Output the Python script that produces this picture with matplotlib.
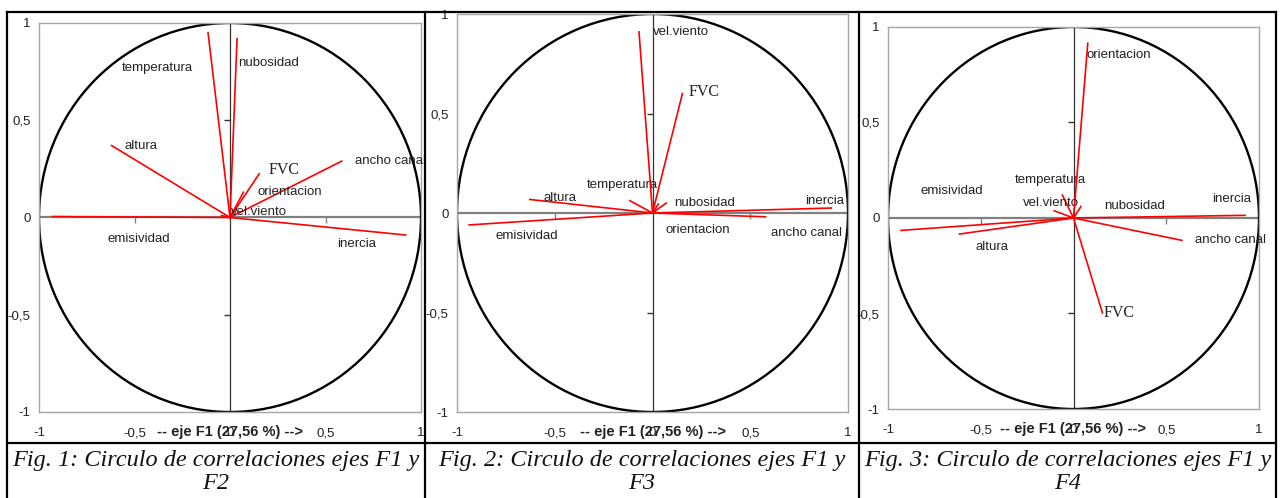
import matplotlib
matplotlib.use("Agg")
import matplotlib.pyplot as plt
from matplotlib.lines import Line2D
from matplotlib.patches import Ellipse

# variables (same order in each panel)
variables = ["temperatura", "nubosidad", "altura", "ancho canal", "FVC",
             "orientacion", "vel.viento", "emisividad", "inercia"]

# correlations with F1 (x) and with F2 / F3 / F4 (y)
f1_f2_x = [-0.115, 0.037, -0.62, 0.585, 0.153, 0.07, -0.045, -0.93, 0.92]
f1_f2_y = [0.95, 0.92, 0.37, 0.29, 0.225, 0.13, 0.01, 0.005, -0.09]

f1_f3_x = [-0.116, 0.07, -0.628, 0.578, 0.153, 0.03, -0.069, -0.938, 0.915]
f1_f3_y = [0.062, 0.05, 0.068, -0.019, 0.60, 0.045, 0.91, -0.06, 0.025]

f1_f4_x = [-0.06, 0.04, -0.615, 0.584, 0.156, 0.077, -0.104, -0.93, 0.925]
f1_f4_y = [0.12, 0.06, -0.084, -0.117, -0.497, 0.915, 0.038, -0.065, 0.014]

tick_vals = [-1, -0.5, 0, 0.5, 1]
tick_labels = ["-1", "-0,5", "0", "0,5", "1"]
axis_title = "-- eje F1 (27,56 %) -->"
captions = ["Fig. 1: Circulo de correlaciones ejes F1 y\nF2",
            "Fig. 2: Circulo de correlaciones ejes F1 y\nF3",
            "Fig. 3: Circulo de correlaciones ejes F1 y\nF4"]

# label offsets from the vector tips, in pixels (layout only)
offsets = [
    {"temperatura": (-86, -35), "nubosidad": (1, -24), "altura": (13, 0),
     "ancho canal": (13, 0), "FVC": (9, 4), "orientacion": (14, 0),
     "vel.viento": (10, 4), "emisividad": (55, -22), "inercia": (-69, -9)},
    {"temperatura": (-43, 16), "nubosidad": (8, 0), "altura": (14, 1),
     "ancho canal": (6, -16), "FVC": (6, 2), "orientacion": (7, -26),
     "vel.viento": (14, 0), "emisividad": (26, -11), "inercia": (-26, 7)},
    {"temperatura": (-48, 15), "nubosidad": (23, 1), "altura": (16, -13),
     "ancho canal": (13, 0), "FVC": (1, 0), "orientacion": (-1, -12),
     "vel.viento": (-31, 8), "emisividad": (20, 39), "inercia": (-33, 16)},
]

W, H = 1282, 498
fig = plt.figure(figsize=(W / 100, H / 100), dpi=100)

# plot frames in pixels: left, right, top, bottom
boxes = [(39, 421, 23, 412), (457, 848, 14, 412), (888, 1259, 27, 409)]
data = [(f1_f2_x, f1_f2_y), (f1_f3_x, f1_f3_y), (f1_f4_x, f1_f4_y)]

for k, (l, r, t, b) in enumerate(boxes):
    ax = fig.add_axes([l / W, 1 - b / H, (r - l) / W, (b - t) / H])
    ax.set_xlim(-1, 1)
    ax.set_ylim(-1, 1)
    for s in ax.spines.values():
        s.set_color("#a6a6a6")
        s.set_linewidth(1)
    ax.set_xticks(tick_vals)
    ax.set_xticklabels(tick_labels)
    ax.set_yticks(tick_vals)
    ax.set_yticklabels(tick_labels)
    ax.tick_params(length=0, labelsize=9.5, colors="#222222")
    ax.tick_params(axis="x", pad=11)
    ax.tick_params(axis="y", pad=6)
    for lab in ax.get_xticklabels() + ax.get_yticklabels():
        lab.set_family("Liberation Sans")

    ax.axhline(0, color="#808080", lw=1.6, zorder=1)
    ax.axvline(0, color="#333333", lw=0.9, zorder=1)
    ax.plot([-0.5, 0.5], [0, 0], ls="none", marker=3, ms=4, color="#808080", mew=1)
    ax.plot([0, 0], [-0.5, 0.5], ls="none", marker=0, ms=4, color="#333333", mew=1)

    ax.add_patch(Ellipse((0, 0), 2, 2, fill=False, ec="black", lw=1.7, zorder=2))

    xs, ys = data[k]
    for name, x, y in zip(variables, xs, ys):
        ax.plot([0, x], [0, y], color="red", lw=1.2, zorder=3)
        dx, dy = offsets[k][name]
        if name == "FVC":
            ax.annotate(name, (x, y), xytext=(dx, dy), textcoords="offset pixels",
                        ha="left", va="center", fontsize=11.5,
                        family="Liberation Serif", color="#222222")
        else:
            ax.annotate(name, (x, y), xytext=(dx, dy), textcoords="offset pixels",
                        ha="left", va="center", fontsize=9.5,
                        family="Liberation Sans", color="#222222")

    ax.annotate(axis_title, (0.5, 0), xycoords="axes fraction", xytext=(0, -20),
                textcoords="offset pixels", ha="center", va="center",
                fontsize=10.5, fontweight="bold", family="Liberation Sans",
                color="#222222")

# table borders
cols = [7, 425, 859, 1276]
top, mid, bot = 12, 443, 497
for x in cols:
    fig.add_artist(Line2D([x / W, x / W], [1 - top / H, 1 - bot / H],
                          color="black", lw=1.6))
for y in (top, mid):
    fig.add_artist(Line2D([cols[0] / W, cols[-1] / W], [1 - y / H, 1 - y / H],
                          color="black", lw=1.6))

for k in range(3):
    cx = (cols[k] + cols[k + 1]) / 2
    fig.text(cx / W, 1 - 472 / H, captions[k], ha="center", va="center",
             fontsize=17.5, style="italic", family="Liberation Serif",
             linespacing=1.15, color="#111111")

fig.savefig("out.png", dpi=100)
